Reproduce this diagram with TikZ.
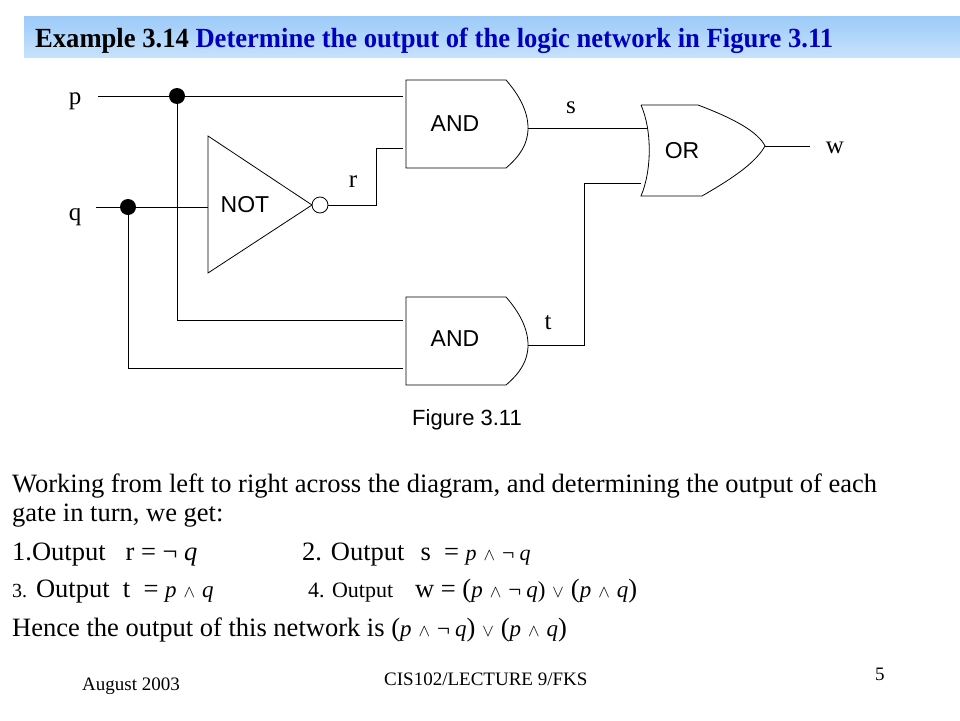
\documentclass[tikz,border=0pt]{standalone}
\usepackage{fontspec}
\setmainfont{Liberation Serif}
\setsansfont{Liberation Sans}
\usetikzlibrary{positioning,calc}
\definecolor{bandtop}{RGB}{156,202,248}
\definecolor{bandbot}{RGB}{198,226,252}
\definecolor{titleblue}{RGB}{0,0,190}
\newcommand{\fsz}[1]{\fontsize{#1}{#1}\selectfont}
\newcommand{\lwedge}{\hspace{7pt}{\fsz{18}$\wedge$}\hspace{7pt}}
\newcommand{\lvee}{\hspace{7pt}{\fsz{18}$\vee$}\hspace{7pt}}
\begin{document}
\begin{tikzpicture}[x=1pt,y=-1pt,
      wire/.style = {draw, line width=0.8pt},
      gate/.style = {draw, line width=0.8pt},
      dot/.style = {circle, fill, inner sep=0pt, minimum size=16pt},
      glabel/.style = {font=\sffamily\fsz{23}},
      vlabel/.style = {font=\fsz{25}, anchor=base, inner sep=0pt},
      body/.style = {font=\fsz{26.5}, anchor=base west, inner sep=0pt},
      foot/.style = {font=\fsz{19}, anchor=base west, inner sep=0pt}
      ]
      \useasboundingbox (0,0) rectangle (960,720);
      \shade[top color=bandtop, bottom color=bandbot] (24,16) rectangle (960,57);
      \node[anchor=base west, inner sep=0pt] (title) at (35,47)
        {\resizebox{798pt}{19.5pt}{\bfseries Example 3.14 \textcolor{titleblue}{Determine the output of the logic network in Figure 3.11}}};

      \node[vlabel] (p) at (75,104) {p};
      \node[vlabel] (q) at (75,220) {q};
      \coordinate (pin) at (98,96);
      \coordinate (qin) at (96,207);

      \coordinate (noti) at (208,207);
      \coordinate (noto) at (328,205);
      \coordinate (a1i1) at (403,96);
      \coordinate (a1i2) at (403,148);
      \coordinate (a1o) at (528,128);
      \coordinate (a2i1) at (403,320);
      \coordinate (a2i2) at (403,368);
      \coordinate (a2o) at (528,345);
      \coordinate (ori1) at (647,128);
      \coordinate (ori2) at (641,183);
      \coordinate (oro) at (765,146);
      \coordinate (wout) at (810,146);

      \path[gate] (208,136) -- (312,205) -- (208,273) -- cycle;
      \path[gate] (320,205) circle (8);
      \foreach \dy in {0,217} {
        \path[gate] (406,80+\dy) -- (506,80+\dy) .. controls (520,96+\dy) and (528,112+\dy) .. (528,128+\dy)
          .. controls (528,144+\dy) and (520,156+\dy) .. (506,168+\dy) -- (406,168+\dy) -- cycle;
      }
      \path[gate] (641,105) -- (698,105) .. controls (735,119) and (758,132) .. (765,146)
        .. controls (756,162) and (735,177) .. (702,196) -- (641,196)
        .. controls (652,170) and (652,130) .. (641,105);

      \node[glabel] (not) at (245,205) {NOT};
      \node[glabel] (and1) at (455,124) {AND};
      \node[glabel] (and2) at (455,339) {AND};
      \node[glabel] (or) at (682,151) {OR};

      \path[wire] (pin) -- (a1i1);
      \path[wire] (qin) -- (noti);
      \node[dot] (pdot) at (177,96) {};
      \node[dot] (qdot) at (128,207) {};
      \path[wire] (pdot) |- (a2i1);
      \path[wire] (qdot) |- (a2i2);
      \path[wire] (noto) -- ++(48,0) |- (a1i2);
      \path[wire] (a1o) -- (ori1);
      \path[wire] (a2o) -- ++(56,0) |- (ori2);
      \path[wire] (oro) -- (wout);

      \node[vlabel] (r) at (353,187) {r};
      \node[vlabel] (s) at (571,113) {s};
      \node[vlabel] (t) at (548,329) {t};
      \node[vlabel] (w) at (835,153) {w};

      \node[font=\sffamily\fsz{22}] (fig) at (467,420) {Figure 3.11};

      \node[body] (line1) at (12,492) {Working from left to right across the diagram, and determining the output of each};
      \node[body] (line2) at (12,521) {gate in turn, we get:};
      \node[body] (out1) at (12,560) {1.Output\ \ \ r = ¬ \textit{q}};
      \node[body] (out2) at (302,560) {2. Output\hspace{16pt}s\ \ = {\fsz{22}\textit{p}\lwedge¬\hspace{5pt}\textit{q}}};
      \node[body] (out3) at (12,597) {{\fsz{20}3.} Output\ \ t\ \ =\ {\fsz{23}\textit{p}\lwedge\textit{q}}};
      \node[body] (out4) at (308,597) {{\fsz{22}4. Output}\hspace{22pt}w = ({\fsz{23}\textit{p}\lwedge¬\hspace{5pt}\textit{q})}\lvee({\fsz{23}\textit{p}\lwedge\textit{q}})};
      \node[body] (hence) at (12,636) {Hence the output of this network is ({\fsz{23}\textit{p}\lwedge¬\hspace{5pt}\textit{q}})\lvee({\fsz{23}\textit{p}\lwedge\textit{q}})};

      \node[foot] (date) at (82,690) {August 2003};
      \node[foot] (course) at (384,685) {CIS102/LECTURE 9/FKS};
      \node[foot] (page) at (875,680) {5};
    \end{tikzpicture}
\end{document}
